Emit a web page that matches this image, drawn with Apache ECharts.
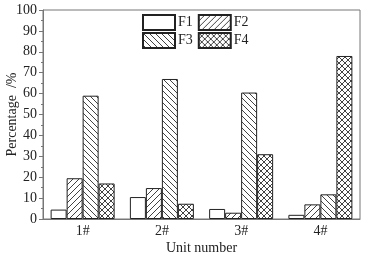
<!DOCTYPE html>
<html><head><meta charset="utf-8">
<script src="https://cdn.jsdelivr.net/npm/echarts@6/dist/echarts.min.js"></script>
<style>html,body{margin:0;padding:0;background:#fff}#c{width:378px;height:263px}</style>
</head><body><div id="c"></div>
<script>
const categories = ['1#', '2#', '3#', '4#'];
const seriesNames = ['F1', 'F2', 'F3', 'F4'];
const F1 = [4.5, 10.5, 4.8, 2.0];
const F2 = [19.5, 14.8, 3.0, 7.0];
const F3 = [59.0, 67.0, 60.5, 11.8];
const F4 = [17.0, 7.3, 31.0, 78.0];
const yTicks = [0, 10, 20, 30, 40, 50, 60, 70, 80, 90, 100];

function pattern(kind, s) {
  const c = document.createElement('canvas');
  c.width = s; c.height = s;
  const g = c.getContext('2d');
  g.fillStyle = '#fff'; g.fillRect(0, 0, s, s);
  g.strokeStyle = '#111'; g.lineWidth = 0.8;
  function fwd() { g.beginPath(); for (let k = -1; k <= 1; k++) { g.moveTo(k * s, s); g.lineTo(k * s + s, 0); } g.stroke(); }
  function back() { g.beginPath(); for (let k = -1; k <= 1; k++) { g.moveTo(k * s, 0); g.lineTo(k * s + s, s); } g.stroke(); }
  if (kind === 'fwd') fwd();
  if (kind === 'back') back();
  if (kind === 'cross') { fwd(); back(); }
  return { image: c, repeat: 'repeat' };
}

const fills = ['#ffffff', pattern('fwd', 6), pattern('back', 6), pattern('cross', 6)];
const values = [F1, F2, F3, F4];
const font = "Liberation Serif, Times New Roman, serif";
const legendBase = { left: 142, padding: 0, icon: 'rect', itemWidth: 32, itemHeight: 15, itemGap: 5,
  textStyle: { fontFamily: font, fontSize: 14, color: '#222', padding: [0, 0, 0, -2] } };

const chart = echarts.init(document.getElementById('c'), null, { renderer: 'canvas' });
chart.setOption({
  animation: false,
  grid: { left: 43, right: 18, top: 10, bottom: 44, containLabel: false, outerBoundsMode: 'none',
    show: true, borderColor: '#777', borderWidth: 1, backgroundColor: 'transparent' },
  legend: [
    Object.assign({ data: ['F1', 'F2'], top: 14 }, legendBase),
    Object.assign({ data: ['F3', 'F4'], top: 32 }, legendBase)
  ],
  xAxis: {
    type: 'category', data: categories,
    axisLine: { lineStyle: { color: '#777' } },
    axisTick: { show: false },
    axisLabel: { fontFamily: font, fontSize: 14, color: '#222', margin: 5 },
    name: 'Unit number', nameLocation: 'middle', nameGap: 22, nameMoveOverlap: false,
    nameTextStyle: { fontFamily: font, fontSize: 14, color: '#222' }
  },
  yAxis: {
    type: 'value', min: 0, max: 100, interval: 10,
    axisLine: { show: true, lineStyle: { color: '#777' } },
    axisTick: { show: true, length: 4, lineStyle: { color: '#777' } },
    minorTick: { show: true, splitNumber: 2, length: 2, lineStyle: { color: '#777' } },
    splitLine: { show: false },
    axisLabel: { fontFamily: font, fontSize: 14, color: '#222', margin: 6,
      formatter: v => yTicks.includes(v) ? String(v) : '' },
    name: 'Percentage  /%', nameLocation: 'middle', nameGap: 24, nameMoveOverlap: false,
    nameTextStyle: { fontFamily: font, fontSize: 14, color: '#222' }
  },
  series: seriesNames.map((n, i) => ({
    name: n, type: 'bar', data: values[i], barWidth: 16, barGap: '0%',
    itemStyle: { color: fills[i], borderColor: '#222', borderWidth: 1 }
  }))
});
</script></body></html>
